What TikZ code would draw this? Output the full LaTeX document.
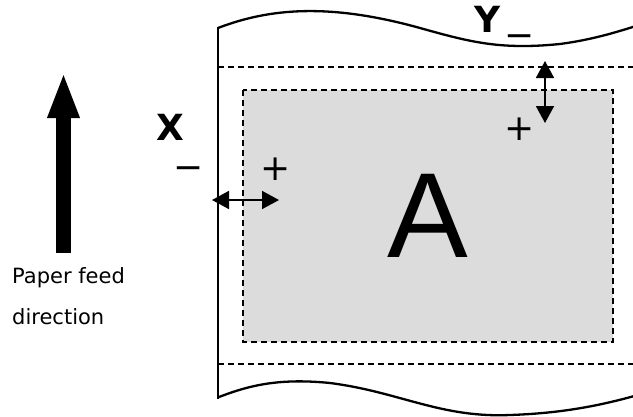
\documentclass[tikz,border=0pt]{standalone}
\usepackage{fontspec}
\setmainfont{DejaVu Sans}
\newfontfamily\bigletterfont{Liberation Sans}
\usepackage{xcolor}
\usetikzlibrary{arrows.meta}
\definecolor{print-area}{HTML}{DCDCDC}
\definecolor{ink}{HTML}{000000}

\tikzset{
  paperedge/.style={draw=ink, line width=2.3pt},
  margindash/.style={draw=ink, line width=2pt, dash pattern=on 6pt off 4pt},
  offset/.style={{Triangle[length=17pt,width=18pt]}-{Triangle[length=17pt,width=18pt]}, line width=1.8pt},
  sign/.style={inner sep=0pt, font=\fontsize{36}{36}\selectfont},
  axis/.style={inner sep=0pt, font=\fontsize{36}{36}\selectfont\bfseries},
  caption/.style={inner sep=0pt, anchor=base west, font=\fontsize{21}{24}\selectfont}
}

\begin{document}
\begin{tikzpicture}[x=1pt, y=-1pt]
      \useasboundingbox (0,0) rectangle (633,416);
      % sheet of paper with torn top and bottom
      \draw[paperedge] (218,28) .. controls (270,8) and (330,3) .. (420,28)
                       .. controls (470,42) and (500,50) .. (560,44)
                       .. controls (590,40) and (615,33) .. (645,23);
      \draw[paperedge] (219,397) .. controls (250,385) and (280,378) .. (330,383)
                       .. controls (400,392) and (440,418) .. (510,415)
                       .. controls (570,413) and (610,403) .. (645,393);
      \draw[paperedge] (218,26.5) -- (218,398.5);
      \draw[margindash] (218,67) -- (633,67);
      \draw[margindash] (218,364) -- (633,364);
      \draw[margindash, fill=print-area] (243,90) rectangle (613,342);
      \node[inner sep=0pt, font=\fontsize{121}{121}\selectfont\bigletterfont] (A) at (428,215.5) {A};
      \coordinate (feedtail) at (63.5,253);
      \coordinate (feedtip) at (63.5,72);
      \draw[line width=15pt, -{Triangle[length=46pt,width=29pt]}] (feedtail) -- (feedtip);
      \node[caption] (feed) at (12,283) {Paper feed};
      \node[caption] (dirn) at (12,324) {direction};
      \node[axis] (X) at (170,127.5) {X};
      \node[sign] (Xminus) at (189,173) {−};
      \node[sign] (Xplus) at (276,169) {+};
      \coordinate (Xleft) at (212,200);
      \coordinate (Xright) at (279,200);
      \draw[offset] (Xleft) -- (Xright);
      \node[axis] (Y) at (487.5,19) {Y};
      \node[sign] (Yminus) at (520,41) {−};
      \node[sign] (Yplus) at (520,129) {+};
      \coordinate (Ytop) at (545,61);
      \coordinate (Ybot) at (545,123);
      \draw[offset] (Ytop) -- (Ybot);
\end{tikzpicture}
\end{document}
